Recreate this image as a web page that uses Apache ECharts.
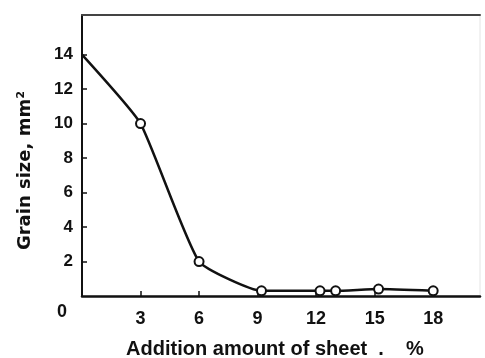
<!DOCTYPE html>
<html>
<head>
<meta charset="utf-8">
<script src="https://cdn.jsdelivr.net/npm/echarts@6/dist/echarts.min.js"></script>
<style>
  html, body { margin: 0; padding: 0; background: #fff; }
  #chart { width: 485px; height: 358px; }
</style>
</head>
<body>
<div id="chart"></div>
<script>
const additionPct = [0, 3, 6, 9.2, 12.2, 13, 15.2, 18];
const grainSize = [14, 10, 2, 0.3, 0.3, 0.3, 0.4, 0.3];
const xTicks = [3, 6, 9, 12, 15, 18];
const yTicks = [2, 4, 6, 8, 10, 12, 14];

const ink = "#111";
const font = "Liberation Sans";

const chart = echarts.init(document.getElementById("chart"));

const points = additionPct.map((x, i) => {
  // first point sits on the y axis, no marker drawn there
  if (i === 0) return { value: [x, grainSize[i]], symbol: "none" };
  return [x, grainSize[i]];
});

const option = {
  backgroundColor: "#fff",
  animation: false,
  grid: {
    left: 82,
    right: 5,
    top: 15,
    bottom: 62,
    outerBoundsMode: "none",
    show: true,
    borderColor: "#e4e4e4",
    borderWidth: 1,
  },
  xAxis: [
    {
      type: "value",
      min: 0,
      max: 20.4,
      name: "Addition amount of sheet  .    %",
      nameLocation: "middle",
      nameGap: 43,
      nameTextStyle: {
        color: ink,
        fontSize: 20,
        fontWeight: "bold",
        fontFamily: font,
        padding: [0, 12, 0, 0],
      },
      axisLine: { show: true, lineStyle: { color: ink, width: 2.5 } },
      axisTick: {
        show: true,
        inside: true,
        length: 5,
        customValues: xTicks,
        lineStyle: { color: ink, width: 1.5 },
      },
      axisLabel: {
        customValues: xTicks,
        color: ink,
        fontSize: 18,
        fontWeight: "bold",
        fontFamily: font,
        margin: 14,
      },
      splitLine: { show: false },
    },
    {
      // heavy top edge of the frame
      type: "value",
      position: "top",
      min: 0,
      max: 20.4,
      axisLine: { show: true, lineStyle: { color: "#444", width: 2 } },
      axisTick: { show: false },
      axisLabel: { show: false },
      splitLine: { show: false },
    },
  ],
  yAxis: {
    type: "value",
    min: 0,
    max: 16.3,
    name: "Grain size, mm²",
    nameLocation: "middle",
    nameRotate: 90,
    nameGap: 48,
    nameTextStyle: {
      color: ink,
      fontSize: 18,
      fontWeight: "bold",
      fontFamily: "DejaVu Sans",
      padding: [0, 30, 0, 0],
    },
    axisLine: { show: true, lineStyle: { color: ink, width: 2 } },
    axisTick: {
      show: true,
      inside: true,
      length: 5,
      customValues: yTicks,
      lineStyle: { color: ink, width: 1.5 },
    },
    axisLabel: {
      customValues: yTicks,
      color: ink,
      fontSize: 17,
      fontWeight: "bold",
      fontFamily: font,
      margin: 9,
    },
    splitLine: { show: false },
  },
  graphic: [
    {
      type: "text",
      left: 57,
      top: 303,
      style: { text: "0", fill: ink, fontSize: 18, fontWeight: "bold", fontFamily: font },
    },
  ],
  series: [
    {
      type: "line",
      data: points,
      symbol: "circle",
      symbolSize: 9,
      smooth: 0.15,
      clip: false,
      lineStyle: { color: ink, width: 2.5 },
      itemStyle: { color: "#fff", borderColor: ink, borderWidth: 2 },
    },
  ],
};

chart.setOption(option);
</script>
</body>
</html>
